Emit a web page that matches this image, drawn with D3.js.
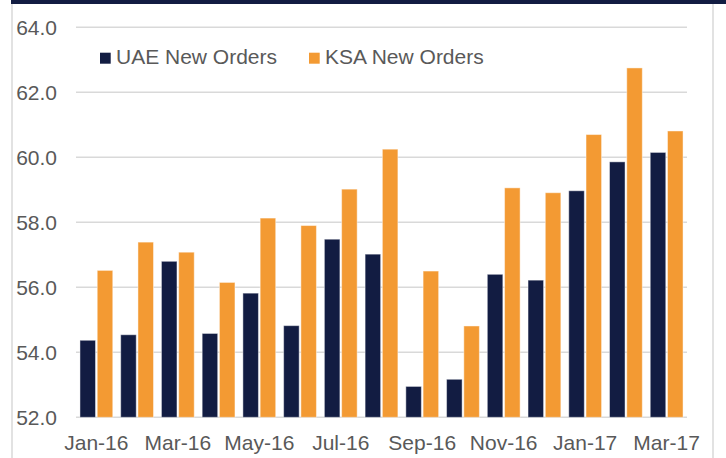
<!DOCTYPE html>
<html>
<head>
<meta charset="utf-8">
<script src="https://cdn.jsdelivr.net/npm/d3@7"></script>
<style>
  body { margin: 0; background: #fff; }
  svg { display: block; font-family: "Liberation Sans", Arial, sans-serif; }
</style>
</head>
<body>
<svg id="chart" width="726" height="458"></svg>
<script>
// Data
var months = ["Jan-16", "Feb-16", "Mar-16", "Apr-16", "May-16", "Jun-16", "Jul-16", "Aug-16",
  "Sep-16", "Oct-16", "Nov-16", "Dec-16", "Jan-17", "Feb-17", "Mar-17"];
var uaeValues = [54.37, 54.54, 56.80, 54.58, 55.82, 54.82, 57.48, 57.02, 52.95, 53.17, 56.40, 56.22, 58.97, 59.86, 60.15];
var ksaValues = [56.52, 57.39, 57.08, 56.15, 58.13, 57.90, 59.02, 60.25, 56.50, 54.81, 59.06, 58.91, 60.70, 62.75, 60.81];
var seriesNames = ["UAE New Orders", "KSA New Orders"];
var yTicks = [52, 54, 56, 58, 60, 62, 64];
var xLabels = ["Jan-16", "Mar-16", "May-16", "Jul-16", "Sep-16", "Nov-16", "Jan-17", "Mar-17"];

var colors = { "UAE New Orders": "#121c42", "KSA New Orders": "#f39a33" };

var svg = d3.select("#chart");

// frame: dark band on top, light grey border
svg.append("rect").attr("x", 11).attr("y", 0).attr("width", 715).attr("height", 4).attr("fill", "#121c42");
svg.append("line").attr("x1", 12).attr("x2", 12).attr("y1", 4).attr("y2", 458).attr("stroke", "#d9d9d9").attr("stroke-width", 1.5);
svg.append("line").attr("x1", 713).attr("x2", 713).attr("y1", 4).attr("y2", 458).attr("stroke", "#d9d9d9").attr("stroke-width", 1.5);

var plotLeft = 76, plotRight = 687, plotTop = 27.3, plotBottom = 417.3;

var y = d3.scaleLinear().domain([52, 64]).range([plotBottom, plotTop]);
var x0 = d3.scaleBand().domain(months).range([plotLeft, plotRight]);
var x1 = d3.scaleBand().domain(seriesNames).range([0, x0.bandwidth()])
  .paddingInner(0.1).paddingOuter(0.23);

// gridlines
svg.selectAll(".grid")
  .data(yTicks)
  .enter().append("line")
  .attr("x1", plotLeft).attr("x2", plotRight)
  .attr("y1", d => y(d)).attr("y2", d => y(d))
  .attr("stroke", "#d9d9d9")
  .attr("stroke-width", 1.5);

// y tick labels
svg.selectAll(".ylab")
  .data(yTicks)
  .enter().append("text")
  .attr("x", 57)
  .attr("y", d => y(d) + 7.3)
  .attr("text-anchor", "end")
  .attr("fill", "#595959")
  .style("font-size", "21px")
  .text(d => d.toFixed(1));

// bars
var rows = months.map(function (m, i) {
  return { month: m, values: [
    { key: seriesNames[0], v: uaeValues[i] },
    { key: seriesNames[1], v: ksaValues[i] }
  ] };
});

var groups = svg.selectAll(".grp")
  .data(rows)
  .enter().append("g")
  .attr("transform", d => `translate(${x0(d.month)},0)`);

groups.selectAll("rect")
  .data(d => d.values)
  .enter().append("rect")
  .attr("x", d => x1(d.key))
  .attr("width", x1.bandwidth())
  .attr("y", d => y(d.v))
  .attr("height", d => y(52) - y(d.v))
  .attr("fill", d => colors[d.key])
  .attr("stroke", "rgba(255,255,255,0.45)")
  .attr("stroke-width", 1);

// x labels
svg.selectAll(".xlab")
  .data(xLabels)
  .enter().append("text")
  .attr("x", d => x0(d) + x0.bandwidth() / 2)
  .attr("y", 450)
  .attr("text-anchor", "middle")
  .attr("fill", "#595959")
  .style("font-size", "21px")
  .text(d => d);

// legend
var legendX = [100, 309];
var legend = svg.selectAll(".leg")
  .data(seriesNames)
  .enter().append("g")
  .attr("transform", (d, i) => `translate(${legendX[i]},0)`);
legend.append("rect")
  .attr("x", 0).attr("y", 52.7)
  .attr("width", 10.7).attr("height", 11)
  .attr("fill", d => colors[d]);
legend.append("text")
  .attr("x", 16).attr("y", 64.3)
  .attr("fill", "#595959")
  .style("font-size", "21px")
  .text(d => d);
</script>
</body>
</html>
